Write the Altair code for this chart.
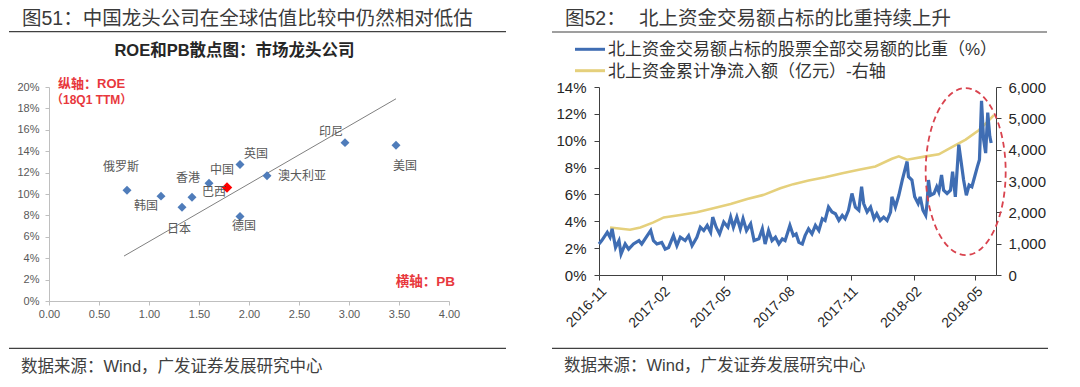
import altair as alt
import pandas as pd

# ---------------- Figure 51: ROE vs PB scatter ----------------
countries = ["俄罗斯", "韩国", "日本", "香港", "巴西", "中国", "英国", "德国", "澳大利亚", "印尼", "美国"]
pb = [0.78, 1.12, 1.33, 1.43, 1.60, 1.78, 1.91, 1.91, 2.18, 2.96, 3.47]
roe = [10.35, 9.8, 8.76, 9.7, 11.0, 10.6, 12.75, 7.9, 11.7, 14.8, 14.55]
highlight = [0, 0, 0, 0, 0, 1, 0, 0, 0, 0, 0]
label_pb = [0.72, 0.97, 1.30, 1.39, 1.65, 1.73, 2.07, 1.95, 2.53, 2.82, 3.56]
label_roe = [12.55, 8.9, 6.7, 11.47, 10.2, 12.24, 13.74, 7.0, 11.71, 15.82, 12.65]
trend_pb = [0.75, 3.47]
trend_roe = [4.2, 18.9]
pb_ticks = [0, 0.5, 1.0, 1.5, 2.0, 2.5, 3.0, 3.5, 4.0]
roe_ticks = [0, 2, 4, 6, 8, 10, 12, 14, 16, 18, 20]

# ---------------- Figure 52: northbound trading share ----------------
start_date = "2016-11-01"
blue_days = [0, 4, 12, 16, 19, 24, 29, 32, 38, 43, 50, 58, 62, 70, 75, 79, 84, 91, 96, 101,
             108, 113, 118, 125, 130, 135, 142, 147, 152, 157, 162, 165, 170, 175, 181, 187, 191, 195, 200, 205,
             209, 214, 220, 225, 232, 237, 241, 246, 251, 256, 261, 266, 270, 277, 282, 286,
             290, 295, 299, 304, 309, 314, 319, 324, 328, 333, 338, 343, 348, 353, 357, 362, 367, 372, 377, 381,
             384, 389, 394, 399, 403, 408, 413, 418, 423, 425, 430, 435, 440, 445, 447, 449, 454, 458, 463, 466,
             470, 474, 476, 478, 481, 486, 490, 493, 497, 500, 505, 510, 513, 517, 522, 525, 529, 533, 537, 541,
             545, 549, 552, 555, 558, 561, 564, 567, 569]
blue_pct = [2.31, 2.56, 3.18, 2.81, 3.44, 2.05, 2.56, 1.56, 2.31, 1.93, 2.31, 2.56, 2.31, 2.93, 3.31, 2.56, 2.31, 2.43, 1.93, 2.05,
            2.93, 2.18, 2.81, 2.56, 2.93, 2.18, 2.81, 3.56, 3.31, 3.69, 3.18, 4.31, 3.56, 3.06, 3.94, 3.56, 4.31, 3.56, 4.31, 3.44,
            4.19, 3.31, 3.81, 2.56, 2.69, 3.44, 2.31, 3.31, 2.56, 2.81, 2.31, 2.69, 2.56, 3.69, 2.93, 3.06,
            2.43, 2.31, 2.93, 3.44, 3.06, 3.69, 3.31, 4.19, 4.06, 5.06, 4.69, 4.56, 4.06, 4.44, 4.19, 4.82, 6.07, 5.06, 4.82, 6.57,
            5.32, 4.69, 5.06, 4.19, 4.56, 4.06, 4.31, 4.06, 4.69, 5.82, 5.06, 5.94, 7.07, 8.07, 8.45, 7.32, 7.07, 5.82, 5.32, 5.82,
            4.82, 4.44, 5.32, 7.07, 5.94, 6.07, 6.57, 6.19, 7.45, 6.32, 6.07, 6.32, 7.70, 5.82, 9.71, 8.58, 7.07, 5.94, 6.70, 6.57,
            7.32, 8.07, 8.58, 12.97, 10.08, 9.08, 12.09, 10.33, 9.83]
yellow_days = [16, 45, 60, 79, 94, 118, 142, 166, 191, 215, 239, 263, 282, 304, 328, 353, 377, 401, 425, 435,
               447, 474, 493, 512, 532, 551, 566, 573]
yellow_val = [1518, 1444, 1518, 1678, 1838, 1914, 2000, 2128, 2268, 2428, 2557, 2768, 2900, 3016, 3122, 3250, 3358, 3465, 3711, 3786,
              3679, 3786, 3850, 4084, 4320, 4620, 4941, 5101]
date_ticks = ["2016-11-01", "2017-02-01", "2017-05-01", "2017-08-01", "2017-11-01", "2018-02-01", "2018-05-01"]
x_domain = ["2016-11-01", "2018-05-31"]
pct_ticks = [0, 2, 4, 6, 8, 10, 12, 14]
val_ticks = [0, 1000, 2000, 3000, 4000, 5000, 6000]
ellipse_date = ["2018-04-17"]
ellipse_pct = [7.7]

# ---------------- helpers ----------------
FONT_MIX = "Liberation Sans, Noto Sans CJK SC, sans-serif"
FONT_CJK = "Noto Sans CJK SC, sans-serif"
one = pd.DataFrame({"k": [0]})


def to_date(days):
    base = pd.Timestamp(start_date)
    return [(base + pd.Timedelta(days=int(d))).strftime("%Y-%m-%d") for d in days]


def ms(s):
    return int(pd.Timestamp(s).value // 10**6)


def txt(s, x, y, size, color="#333333", align="left", weight="normal", font=FONT_MIX):
    return alt.Chart(one).mark_text(
        text=s, align=align, baseline="middle", fontSize=size, color=color,
        fontWeight=weight, font=font
    ).encode(x=alt.value(x), y=alt.value(y))


def hline(x1, x2, y, color="#333333", width=1.0, opacity=1.0):
    return alt.Chart(one).mark_rule(color=color, strokeWidth=width, opacity=opacity).encode(
        x=alt.value(x1), x2=alt.value(x2), y=alt.value(y))


# ---------------- left panel ----------------
scat_df = pd.DataFrame({"country": countries, "pb": pb, "roe": roe, "hl": highlight,
                        "lpb": label_pb, "lroe": label_roe})
trend_df = pd.DataFrame({"tpb": trend_pb, "troe": trend_roe})

sx1 = alt.Scale(domain=[0, 4], nice=False, zero=False)
sy1 = alt.Scale(domain=[0, 20], nice=False, zero=False)


def ax_x1():
    return alt.Axis(values=pb_ticks, format=".2f", title=None, grid=False, domainColor="#BFBFBF",
                    tickColor="#BFBFBF", tickSize=4, labelColor="#595959", labelFontSize=11,
                    labelFont="Liberation Sans", labelPadding=3, labelFlush=False, labelOverlap=False)


def ax_y1():
    return alt.Axis(values=roe_ticks, labelExpr="datum.value + '%'", title=None, grid=False,
                    domainColor="#BFBFBF", tickColor="#BFBFBF", tickSize=4, labelColor="#595959",
                    labelFontSize=11, labelFont="Liberation Sans", labelPadding=6, labelFlush=False,
                    labelOverlap=False)


points = alt.Chart(scat_df).mark_point(shape="diamond", filled=True, opacity=1).encode(
    x=alt.X("pb:Q", scale=sx1, axis=ax_x1()),
    y=alt.Y("roe:Q", scale=sy1, axis=ax_y1()),
    color=alt.condition("datum.hl == 1", alt.value("#FF0000"), alt.value("#4F7CBA")),
    size=alt.condition("datum.hl == 1", alt.value(110), alt.value(80)),
)
trend = alt.Chart(trend_df).mark_line(color="#808080", strokeWidth=1).encode(
    x=alt.X("tpb:Q", scale=sx1, axis=ax_x1()), y=alt.Y("troe:Q", scale=sy1, axis=ax_y1()))
labels = alt.Chart(scat_df).mark_text(font=FONT_CJK, fontSize=12, color="#595959").encode(
    x=alt.X("lpb:Q", scale=sx1, axis=ax_x1()), y=alt.Y("lroe:Q", scale=sy1, axis=ax_y1()),
    text="country:N")

RED = "#E8383D"
left_decor = [
    hline(-40, 460, -79, opacity=0),
    txt("图51：中国龙头公司在全球估值比较中仍然相对低估", -27, -68.5, 19.5, color="#3A3A3A"),
    hline(-40, 457, -55.3, color="#404040", width=1.2),
    txt("ROE和PB散点图：市场龙头公司", 185.5, -36, 16.5, color="#262626", align="center", weight="bold"),
    txt("纵轴：ROE", 9, -3, 13, color=RED, weight="bold"),
    txt("（18Q1 TTM）", 2, 12.5, 12, color=RED, weight="bold"),
    txt("横轴：PB", 406, 195, 13.5, color=RED, align="right", weight="bold"),
    hline(-40, 457, 261.3, color="#404040", width=1.2),
    txt("数据来源：Wind，广发证券发展研究中心", -28, 280, 16.5, color="#404040"),
]

left = alt.layer(trend, points, labels, *left_decor).properties(width=400, height=214)

# ---------------- right panel ----------------
blue_df = pd.DataFrame({"date": to_date(blue_days), "pct": blue_pct})
yel_df = pd.DataFrame({"date": to_date(yellow_days), "val": yellow_val})
ell_df = pd.DataFrame({"date": ellipse_date, "pct": ellipse_pct})

BLUE = "#3F6DB3"
YEL = "#E5D07C"

sx2 = alt.Scale(type="utc", domain=[ms(x_domain[0]), ms(x_domain[1])], nice=False)


def ax_x2():
    return alt.Axis(values=[ms(d) for d in date_ticks], labelExpr="utcFormat(datum.value, '%Y-%m')",
                    labelAngle=-45, title=None, grid=False, domainColor="#404040", tickColor="#404040",
                    tickSize=5, labelFontSize=14, labelColor="#262626", labelFont="Liberation Sans",
                    labelPadding=4, labelFlush=False, labelOverlap=False)


ax_yl = alt.Axis(values=pct_ticks, labelExpr="datum.value + '%'", orient="left", title=None, grid=False,
                 domainColor="#404040", tickColor="#404040", tickSize=5, labelFontSize=15,
                 labelColor="#262626", labelFont="Liberation Sans", labelPadding=8, labelFlush=False,
                 labelOverlap=False)
ax_yr = alt.Axis(values=val_ticks, format=",.0f", orient="right", title=None, grid=False,
                 domainColor="#404040", tickColor="#404040", tickSize=5, labelFontSize=15,
                 labelColor="#262626", labelFont="Liberation Sans", labelPadding=7, labelFlush=False,
                 labelOverlap=False)

yellow = alt.Chart(yel_df).mark_line(color=YEL, strokeWidth=2.6).encode(
    x=alt.X("date:T", scale=sx2, axis=ax_x2()),
    y=alt.Y("val:Q", scale=alt.Scale(domain=[0, 6000], nice=False), axis=ax_yr))
blue = alt.Chart(blue_df).mark_line(color=BLUE, strokeWidth=3.2).encode(
    x=alt.X("date:T", scale=sx2, axis=ax_x2()),
    y=alt.Y("pct:Q", scale=alt.Scale(domain=[0, 14], nice=False), axis=ax_yl))

ELLIPSE = ("M 0.479 0 C 0.479 0.5523 0.2646 1 0 1 C -0.2646 1 -0.479 0.5523 -0.479 0 "
           "C -0.479 -0.5523 -0.2646 -1 0 -1 C 0.2646 -1 0.479 -0.5523 0.479 0 Z")
ell = alt.Chart(ell_df).mark_point(shape=ELLIPSE, filled=False, color="#D9434E", strokeWidth=1.8,
                                   strokeDash=[6, 4], size=27889, opacity=1).encode(
    x=alt.X("date:T", scale=sx2, axis=ax_x2()),
    y=alt.Y("pct:Q", scale=alt.Scale(domain=[0, 14], nice=False), axis=None))

right_decor = [
    hline(-47, 448, -79, opacity=0),
    txt("图52：", -34, -68.5, 19.5, color="#3A3A3A"),
    txt("北上资金交易额占标的比重持续上升", 40, -68.5, 19.5, color="#3A3A3A"),
    hline(-47, 448, -55, color="#404040", width=1.2),
    hline(-24, 6, -37.7, color=BLUE, width=3),
    txt("北上资金交易额占标的股票全部交易额的比重（%）", 9, -37.5, 17, color="#333333"),
    hline(-24, 6, -16.3, color=YEL, width=3),
    txt("北上资金累计净流入额（亿元）-右轴", 9, -15.5, 17, color="#333333"),
    hline(-47, 449, 261.3, color="#404040", width=1.2),
    txt("数据来源：Wind，广发证券发展研究中心", -35, 279, 16.5, color="#404040"),
]

right = alt.layer(yellow, blue, ell, *right_decor).resolve_scale(y="independent").properties(
    width=397, height=188)

chart = alt.hconcat(left, right, spacing=42).properties(
    padding={"left": 0, "top": 0, "right": 0, "bottom": 0}, background="white"
).configure_view(stroke=None)

chart.save("out.html", embed_options={"renderer": "svg", "actions": False})
